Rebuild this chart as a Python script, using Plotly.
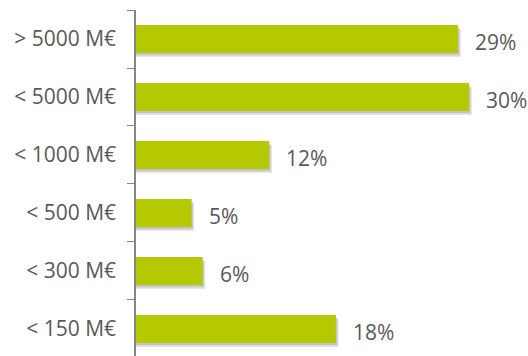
import plotly.graph_objects as go

categories = ["> 5000 M€", "< 5000 M€", "< 1000 M€", "< 500 M€", "< 300 M€", "< 150 M€"]
values = [29, 30, 12, 5, 6, 18]
labels = ["29%", "30%", "12%", "5%", "6%", "18%"]

bar_color = "#b5c900"
text_color = "#595959"
axis_color = "#868686"
font_family = "Open Sans"

fig = go.Figure()
# soft shadow layers
fig.add_trace(go.Bar(
    y=categories, x=[v + 0.25 for v in values], orientation="h",
    width=0.48, offset=-0.17, marker=dict(color="rgba(0,0,0,0.10)", line=dict(width=0)),
    hoverinfo="skip", showlegend=False))
fig.add_trace(go.Bar(
    y=categories, x=[v + 0.12 for v in values], orientation="h",
    width=0.48, offset=-0.20, marker=dict(color="rgba(0,0,0,0.14)", line=dict(width=0)),
    hoverinfo="skip", showlegend=False))
fig.add_trace(go.Bar(
    y=categories, x=values, orientation="h",
    width=0.48, offset=-0.24, marker=dict(color=bar_color, line=dict(width=0)),
    showlegend=False))

for c, v, t in zip(categories, values, labels):
    fig.add_annotation(x=v, y=c, text=t, showarrow=False, xanchor="left",
                       xshift=15, yshift=-3,
                       font=dict(family=font_family, size=21, color=text_color))

fig.update_layout(
    width=528, height=356,
    margin=dict(l=136, r=0, t=10, b=0),
    paper_bgcolor="white", plot_bgcolor="white",
    barmode="overlay",
    font=dict(family=font_family, size=21, color=text_color),
    xaxis=dict(range=[0, 35.3], visible=False, showgrid=False, zeroline=False),
    yaxis=dict(type="category", categoryorder="array", categoryarray=categories,
               range=[5.466, -0.5], tickson="boundaries", ticks="outside",
               ticklen=7, tickcolor=axis_color, tickwidth=1,
               showline=True, linecolor=axis_color, linewidth=1.5,
               showgrid=False, ticklabelstandoff=14,
               tickfont=dict(family=font_family, size=21, color=text_color)),
)

fig.write_html("out.html")
